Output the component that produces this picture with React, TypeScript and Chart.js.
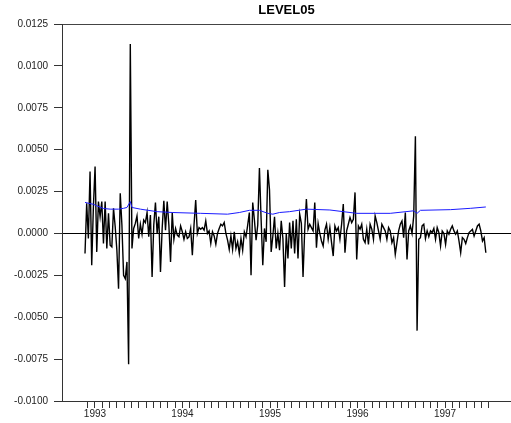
import React, { useEffect, useRef } from 'react';
import { Chart, registerables } from 'chart.js';

Chart.register(...registerables);

const TITLE = 'LEVEL05';
const START_YEAR = 1992.886; // first weekly observation, as a fractional year
const WEEK = 7 / 365.25;
const UNIT = 0.001; // values below are in thousandths

// weekly series (black), in 0.001 units
const levelValues = [
  -1.2, 1.8, -0.3, 3.7, -1.9, 1.6, 4.0, -1.1, 1.9, 1.0,
  1.9, -0.6, 1.9, -0.9, 1.2, -0.7, -0.8, 1.5, 0.4, -1.0,
  -3.3, 2.4, 0.5, -2.5, -2.7, -1.7, -7.8, 11.3, -0.9, 0.3,
  0.6, 1.05, -0.3, 0.55, -0.05, 0.8, 0.65, 1.25, -0.2, 1.1,
  -2.6, 0.5, 1.85, 0.0, 1.0, -2.3, 0.3, 1.95, 0.2, 1.9,
  0.5, -1.7, 1.25, -0.35, 0.3, -0.1, -0.2, 0.45, 0.1, -0.35,
  0.1, -0.3, -0.2, 0.3, -1.3, 0.5, 2.0, 0.0, 0.35, 0.25,
  0.35, 0.2, 0.75, 0.0, 0.15, -0.6, 0.1, -0.15, -0.65, 0.0,
  0.3, 0.55, 0.45, 0.65, 0.0, -0.4, -0.95, -0.15, -0.95, 0.1,
  -0.9, -0.5, -1.2, -0.3, -1.0, 0.1, -0.2, 0.5, 1.25, -2.5,
  1.85, 0.8, -0.4, 0.5, 3.9, 0.85, -1.9, 0.3, -0.5, 3.8,
  2.6, -1.1, -0.15, 1.0, -0.9, 0.0, -1.0, 0.75, -0.3, -3.2,
  0.0, -1.5, 0.65, -0.9, 0.75, -1.2, 0.85, -1.5, 1.15, 0.6,
  -2.6, 0.2, 2.05, 0.25, 0.55, 0.35, 0.15, 1.85, -0.85, 0.6,
  0.0, -0.45, -0.75, 0.2, 0.55, -0.35, 0.35, -0.55, -1.35, 0.45,
  0.15, 0.35, -0.35, 0.55, 1.75, -1.15, 0.15, 0.55, 0.95, 0.65,
  0.85, 2.45, -1.55, 0.45, 0.25, 0.55, -0.35, -0.55, 0.25, -0.65,
  0.55, 0.25, -0.35, 1.05, 0.65, 0.15, -0.35, 0.55, 0.35, 0.15,
  -0.35, 0.35, 0.15, -0.55, -0.25, -1.25, -0.55, 0.15, 0.55, 0.75,
  -0.25, 1.25, -1.55, 0.15, 0.45, 0.0, 1.05, 5.8, -5.8, -0.35,
  -0.25, 0.45, 0.55, -0.3, 0.15, -0.2, 0.15, 0.05, 0.3, -0.35,
  0.35, 0.05, -0.75, 0.15, 0.0, -0.65, 0.15, -0.05, 0.25, 0.45,
  0.15, -0.05, 0.15, -0.45, -1.15, -0.25, -0.35, -0.6, -0.25, 0.05,
  0.15, 0.25, -0.15, 0.15, 0.45, 0.55, 0.15, -0.45, -0.25, -1.15,
];

// smooth series (blue): week index and value, in 0.001 units
const bandWeeks = [0, 5, 7, 11, 15, 20, 23, 25, 27, 28, 33, 43, 52, 69, 85, 92, 98, 104, 109, 112, 116, 122, 132, 146, 162, 182, 196, 198, 200, 218, 230, 239];
const bandValues = [1.85, 1.74, 1.65, 1.49, 1.45, 1.45, 1.5, 1.55, 1.9, 1.55, 1.45, 1.3, 1.25, 1.2, 1.15, 1.25, 1.38, 1.38, 1.2, 1.15, 1.25, 1.3, 1.45, 1.4, 1.2, 1.2, 1.35, 1.2, 1.38, 1.42, 1.5, 1.58];

const yearLabels = [1993, 1994, 1995, 1996, 1997];
const Y_MIN = -0.01;
const Y_MAX = 0.0125;
const Y_STEP = 0.0025;
const X_MIN = 1992.623;
const X_MAX = 1997.754;
const FIRST_TICK = 1992 + 11 / 12;
const LAST_TICK = 1997.5;
const FONT = '"Liberation Sans", Arial, sans-serif';

export default function App() {
  const ref = useRef<HTMLCanvasElement | null>(null);

  useEffect(() => {
    const canvas = ref.current;
    if (!canvas) return;

    const monthTicks: number[] = [];
    for (let m = 0; FIRST_TICK + m / 12 <= LAST_TICK + 1e-6; m++) monthTicks.push(FIRST_TICK + m / 12);

    const black = levelValues.map((v, i) => ({ x: START_YEAR + i * WEEK, y: v * UNIT }));
    const blue = bandWeeks.map((w, i) => ({ x: START_YEAR + w * WEEK, y: bandValues[i] * UNIT }));

    const titlePlugin = {
      id: 'topTitle',
      afterDraw(chart: any) {
        const c = chart.ctx;
        const a = chart.chartArea;
        c.save();
        c.font = 'bold 13px ' + FONT;
        c.fillStyle = '#000';
        c.textAlign = 'center';
        c.textBaseline = 'middle';
        c.fillText(TITLE, (a.left + a.right) / 2, 10);
        c.restore();
      },
    };

    const chart = new Chart(canvas, {
      type: 'line',
      data: {
        datasets: [
          { data: blue, borderColor: '#1a1aff', borderWidth: 1, pointRadius: 0, tension: 0 },
          { data: black, borderColor: '#000000', borderWidth: 1.4, pointRadius: 0, tension: 0 },
        ],
      },
      options: {
        animation: false,
        responsive: false,
        parsing: false,
        layout: { padding: { top: 24, left: 0, right: 0, bottom: 0 } },
        plugins: { legend: { display: false }, tooltip: { enabled: false }, title: { display: false } },
        scales: {
          x: {
            type: 'linear',
            min: X_MIN,
            max: X_MAX,
            afterBuildTicks: (scale: any) => {
              scale.ticks = monthTicks.map((v) => ({ value: v }));
            },
            afterFit: (scale: any) => {
              scale.height = 22;
            },
            grid: { drawOnChartArea: false, drawTicks: true, tickLength: 7, color: '#333', tickColor: '#333' },
            border: { display: true, color: '#333', width: 1 },
            ticks: {
              autoSkip: false,
              maxRotation: 0,
              padding: 0,
              color: '#222',
              font: { family: FONT, size: 10 },
              callback: (v: any) => {
                const n = Number(v);
                const r = Math.round(n);
                return Math.abs(n - r) < 1e-6 && yearLabels.includes(r) ? String(r) : '';
              },
            },
          },
          y: {
            type: 'linear',
            min: Y_MIN,
            max: Y_MAX,
            afterFit: (scale: any) => {
              scale.width = 62;
            },
            grid: {
              drawTicks: true,
              tickLength: 8,
              tickColor: '#333',
              color: (ctx: any) => {
                const v = ctx.tick ? ctx.tick.value : NaN;
                if (Math.abs(v) < 1e-9) return '#000';
                if (Math.abs(v - Y_MAX) < 1e-9) return '#444';
                return 'rgba(0,0,0,0)';
              },
            },
            border: { display: true, color: '#333', width: 1 },
            ticks: {
              stepSize: Y_STEP,
              padding: 6,
              color: '#222',
              font: { family: FONT, size: 10 },
              callback: (v: any) => Number(v).toFixed(4),
            },
          },
        },
      },
      plugins: [titlePlugin],
    } as any);

    return () => chart.destroy();
  }, []);

  return (
    <div style={{ position: 'fixed', left: 0, top: 0, width: 511, height: 423, background: '#fff' }}>
      <canvas ref={ref} width={511} height={423} style={{ display: 'block', width: 511, height: 423 }} />
    </div>
  );
}
